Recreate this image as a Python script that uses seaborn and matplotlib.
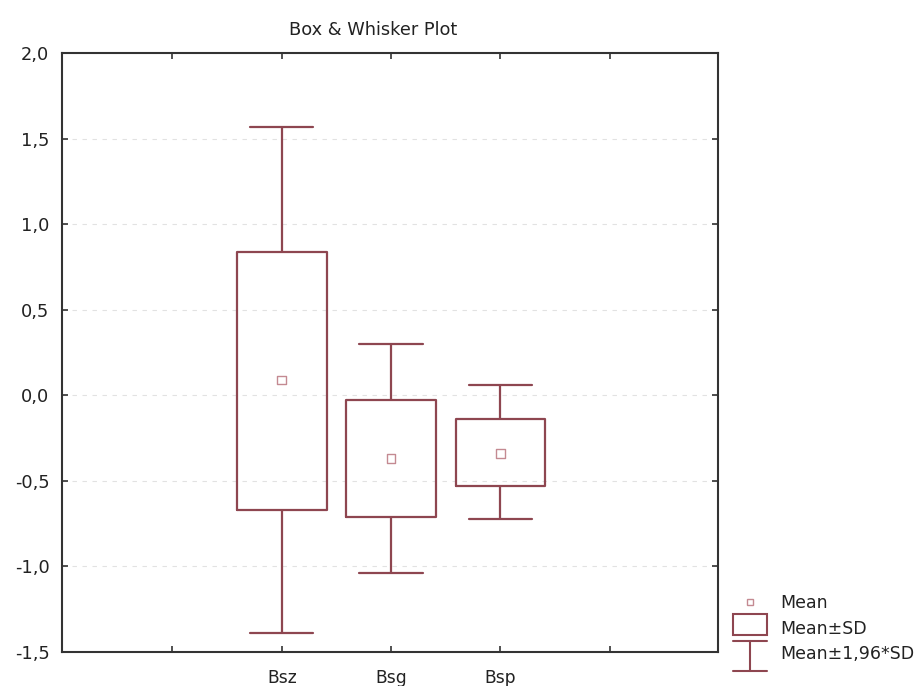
import numpy as np
import pandas as pd
import matplotlib
matplotlib.use("Agg")
import matplotlib.pyplot as plt
import seaborn as sns
from matplotlib.legend_handler import HandlerBase
from matplotlib.lines import Line2D
from matplotlib.patches import Rectangle

# ---- data ----
categories = ["Bsz", "Bsg", "Bsp"]
means = [0.09, -0.37, -0.34]
sd_low = [-0.67, -0.71, -0.53]
sd_high = [0.84, -0.03, -0.14]
ci_low = [-1.39, -1.04, -0.72]
ci_high = [1.57, 0.30, 0.06]
y_ticks = [-1.5, -1.0, -0.5, 0.0, 0.5, 1.0, 1.5, 2.0]
y_tick_labels = ["-1,5", "-1,0", "-0,5", "0,0", "0,5", "1,0", "1,5", "2,0"]
x_tick_labels = ["", "Bsz", "Bsg", "Bsp", ""]
legend_labels = ["Mean", "Mean±SD", "Mean±1,96*SD"]

LINE = "#8E4650"
MEANC = "#C48A92"

# five values per group so that quartiles = box edges, min/max = whiskers
rows = []
for c, lo, q1, m, q3, hi in zip(categories, ci_low, sd_low, means, sd_high, ci_high):
    for v in (lo, q1, m, q3, hi):
        rows.append({"group": c, "value": v})
df = pd.DataFrame(rows)

sns.set_style("white")
plt.rcParams["font.family"] = ["DejaVu Sans"]

fig = plt.figure(figsize=(9.23, 6.86), dpi=100)
ax = fig.add_axes([62 / 923, 34 / 686, 656 / 923, 599 / 686])

sns.boxplot(data=df, x="group", y="value", order=categories, whis=(0, 100),
            width=0.82, fill=False, color=LINE, linewidth=1.6,
            showcaps=True, capwidths=0.58,
            medianprops=dict(linewidth=0), ax=ax)

sns.scatterplot(x=categories, y=means, marker="s", s=38,
                facecolor="none", edgecolor=MEANC, linewidth=1.0, ax=ax, zorder=5)

ax.set_xlim(-2.01, 3.99)
ax.set_ylim(-1.5, 2.0)
ax.set_yticks(y_ticks)
ax.set_yticklabels(y_tick_labels, fontsize=12.8)
ax.set_xticks([-1, 0, 1, 2, 3])
ax.set_xticklabels(x_tick_labels, fontsize=12.3)
ax.set_xlabel("")
ax.set_ylabel("")
ax.tick_params(direction="in", length=4, width=1.2, top=True, right=True,
               left=True, bottom=True, color="#333333", labelcolor="#222222")
ax.tick_params(axis="x", pad=12)
ax.tick_params(axis="y", pad=9)
ax.yaxis.grid(True, linestyle=(0, (4, 5)), color="#e2e2e2", linewidth=0.8)
ax.xaxis.grid(False)
for sp in ax.spines.values():
    sp.set_color("#333333")
    sp.set_linewidth(1.5)
    sp.set_visible(True)

fig.text(373 / 923, 1 - 30 / 686, "Box & Whisker Plot", ha="center", va="center",
         fontsize=12.8, color="#222222")


class BoxHandler(HandlerBase):
    def create_artists(self, legend, orig, xd, yd, width, height, fontsize, trans):
        cy = yd + height / 2 + 0.27 * height
        h = height * 1.75
        r = Rectangle((xd, cy - h / 2), width, h, fill=False,
                      edgecolor=LINE, linewidth=1.5, transform=trans)
        return [r]


class WhiskerHandler(HandlerBase):
    def create_artists(self, legend, orig, xd, yd, width, height, fontsize, trans):
        cx = xd + width / 2
        cy = yd + height / 2 - 0.25 * height
        top = cy + 1.2 * height
        bot = cy - 1.2 * height
        l1 = Line2D([xd, xd + width], [top, top], color=LINE, lw=1.5, transform=trans)
        l2 = Line2D([xd, xd + width], [bot, bot], color=LINE, lw=1.5, transform=trans)
        l3 = Line2D([cx, cx], [bot, top], color=LINE, lw=1.5, transform=trans)
        return [l1, l2, l3]


class BoxKey:
    pass


class WhiskerKey:
    pass


mean_handle = Line2D([], [], linestyle="none", marker="s", markersize=5,
                     markerfacecolor="none", markeredgecolor=MEANC, markeredgewidth=1.0)
leg = fig.legend([mean_handle, BoxKey(), WhiskerKey()], legend_labels,
                 handler_map={BoxKey: BoxHandler(), WhiskerKey: WhiskerHandler()},
                 loc="lower left", bbox_to_anchor=(733 / 923, 23 / 686),
                 frameon=False, fontsize=12.5, handlelength=1.95, handletextpad=0.75,
                 labelspacing=0.42, borderaxespad=0, borderpad=0)
for t in leg.get_texts():
    t.set_color("#222222")

fig.savefig("out.png", dpi=100, facecolor="white")
